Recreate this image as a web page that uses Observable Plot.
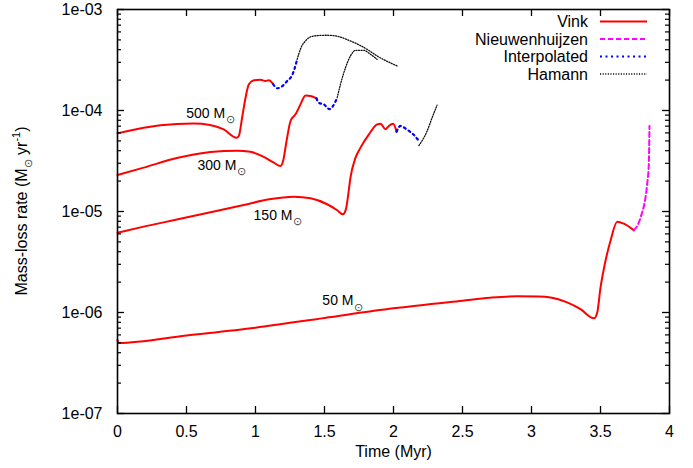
<!DOCTYPE html>
<html><head><meta charset="utf-8">
<script src="https://cdn.jsdelivr.net/npm/d3@7"></script>
<script src="https://cdn.jsdelivr.net/npm/@observablehq/plot@0.6"></script>
<style>
body{margin:0;background:#fff}
svg{font-family:"Liberation Sans",Arial,Helvetica,sans-serif}
</style>
</head><body><div id="chart"></div>
<script>
// ---- ticks & labels ----
const xTicks = [0, 0.5, 1, 1.5, 2, 2.5, 3, 3.5, 4];
const yTicks = [1e-7, 1e-6, 1e-5, 1e-4, 1e-3];
const yTickLabels = ["1e-07", "1e-06", "1e-05", "1e-04", "1e-03"];
const legendNames = ["Vink", "Nieuwenhuijzen", "Interpolated", "Hamann"];
const legendColors = ["#ff0000", "#ff00ff", "#0000ff", "#000000"];

// ---- curve labels ----
const starLabels = ["500 M", "300 M", "150 M", "50 M"];
const starLabelT = [0.78, 0.862, 1.268, 1.71];
const starLabelRate = [9.4e-5, 2.88e-5, 9.2e-6, 1.3e-6];

// ---- data: [time (Myr), mass-loss rate (Msun/yr)] ----
const vink500 = [[0,5.94e-5],[0.19,6.76e-5],[0.43,7.35e-5],[0.55,7.42e-5],[0.67,7.2e-5],[0.77,6.5e-5],[0.862,5.38e-5],[0.879,5.6e-5],[0.903,8.5e-5],[0.928,1.34e-4],[0.952,1.82e-4],[0.988,1.99e-4],[1.036,2.02e-4],[1.072,1.96e-4],[1.097,1.99e-4],[1.128,1.82e-4]];
const interp500 = [[1.128,1.82e-4],[1.157,1.66e-4],[1.186,1.71e-4],[1.23,1.96e-4],[1.266,2.24e-4],[1.302,3.21e-4]];
const hamann500 = [[1.302,3.21e-4],[1.33,4.19e-4],[1.366,4.95e-4],[1.423,5.47e-4],[1.519,5.56e-4],[1.592,5.43e-4],[1.688,4.88e-4],[1.808,4.04e-4],[1.881,3.47e-4],[2.027,2.76e-4]];

const vink300 = [[0,2.3e-5],[0.19,2.72e-5],[0.43,3.38e-5],[0.674,3.88e-5],[0.867,4.0e-5],[0.963,3.9e-5],[1.06,3.47e-5],[1.133,3.04e-5],[1.181,2.82e-5],[1.2,3.16e-5],[1.225,4.99e-5],[1.254,7.87e-5],[1.29,9.16e-5],[1.326,1.15e-4],[1.362,1.41e-4],[1.399,1.39e-4],[1.442,1.32e-4]];
const interp300 = [[1.442,1.32e-4],[1.459,1.19e-4],[1.495,1.15e-4],[1.536,1.03e-4],[1.562,1.11e-4],[1.592,1.34e-4]];
const hamann300 = [[1.592,1.34e-4],[1.616,1.82e-4],[1.652,2.65e-4],[1.688,3.47e-4],[1.725,3.94e-4],[1.785,3.94e-4],[1.833,3.6e-4],[1.881,3.21e-4]];

const vink150 = [[0,6.17e-6],[0.19,7.08e-6],[0.43,8.32e-6],[0.674,9.82e-6],[0.915,1.16e-5],[1.1,1.32e-5],[1.278,1.4e-5],[1.399,1.35e-5],[1.519,1.18e-5],[1.592,1.03e-5],[1.633,9.37e-6],[1.655,1.05e-5],[1.669,1.37e-5],[1.688,2.16e-5],[1.725,3.41e-5],[1.761,4.29e-5],[1.822,5.81e-5],[1.882,7.29e-5],[1.906,7.4e-5],[1.942,6.52e-5],[1.966,7.03e-5],[1.998,7.4e-5],[2.022,6.17e-5]];
const interp150 = [[2.022,6.17e-5],[2.051,7.03e-5],[2.095,6.5e-5],[2.143,5.81e-5],[2.184,5.0e-5]];
const hamann150 = [[2.184,4.5e-5],[2.244,6.27e-5],[2.28,8.5e-5],[2.316,1.13e-4]];

const vink50 = [[0,5.35e-7],[0.008,5.0e-7],[0.5,5.93e-7],[1.0,7.08e-7],[1.5,8.83e-7],[2.0,1.1e-6],[2.5,1.31e-6],[2.7,1.4e-6],[2.9,1.45e-6],[3.05,1.44e-6],[3.138,1.41e-6],[3.258,1.26e-6],[3.355,1.08e-6],[3.452,8.75e-7],[3.476,9.96e-7],[3.5,1.76e-6],[3.536,3.24e-6],[3.572,5.1e-6],[3.621,7.92e-6],[3.669,7.57e-6],[3.741,6.51e-6]];
const nieuw50 = [[3.741,6.51e-6],[3.79,8.69e-6],[3.838,1.86e-5],[3.85,2.93e-5],[3.855,7.03e-5]];

const segments = [
  {model: "Vink", star: 500, pts: vink500},
  {model: "Interpolated", star: 500, pts: interp500},
  {model: "Hamann", star: 500, pts: hamann500},
  {model: "Vink", star: 300, pts: vink300},
  {model: "Interpolated", star: 300, pts: interp300},
  {model: "Hamann", star: 300, pts: hamann300},
  {model: "Vink", star: 150, pts: vink150},
  {model: "Interpolated", star: 150, pts: interp150},
  {model: "Hamann", star: 150, pts: hamann150},
  {model: "Vink", star: 50, pts: vink50},
  {model: "Nieuwenhuijzen", star: 50, pts: nieuw50}
];
const rows = segments.flatMap((s, i) => s.pts.map(([t, rate]) => ({seg: i, model: s.model, star: s.star, t, rate})));
const yMinor = [1e-7, 1e-6, 1e-5, 1e-4].flatMap(d => [2,3,4,5,6,7,8,9].map(k => k * d));
const labelRows = starLabels.map((s, i) => ({s, t: starLabelT[i], rate: starLabelRate[i]}));

const W = 693, H = 468;
const mL = 117, mR = 24, mT = 9, mB = 55;
const fw = W - mL - mR, fh = H - mT - mB;

const styles = {
  "Vink": {stroke: "#ff0000", strokeWidth: 2},
  "Nieuwenhuijzen": {stroke: "#ff00ff", strokeWidth: 2, strokeDasharray: "5,3"},
  "Interpolated": {stroke: "#0000ff", strokeWidth: 2.2, strokeDasharray: "2,3.5"},
  "Hamann": {stroke: "#111", strokeWidth: 1.3, strokeDasharray: "1.1,1.5"}
};

const plot = Plot.plot({
  width: W, height: H,
  marginLeft: mL, marginRight: mR, marginTop: mT, marginBottom: mB,
  style: {fontSize: "16px", fontFamily: "'Liberation Sans', Arial, sans-serif", color: "#000", background: "#fff"},
  x: {domain: [0, 4]},
  y: {type: "log", domain: [1e-7, 1e-3]},
  marks: [
    ...Object.keys(styles).map(m => Plot.line(rows.filter(d => d.model === m), {x: "t", y: "rate", z: "seg", curve: "monotone-x", ...styles[m]})),
    // inward ticks
    Plot.ruleX(xTicks, {x: d => d, insetTop: fh - 7, stroke: "#000", strokeWidth: 1.3}),
    Plot.ruleX(xTicks, {x: d => d, insetBottom: fh - 7, stroke: "#000", strokeWidth: 1.3}),
    Plot.ruleY(yTicks, {y: d => d, insetRight: fw - 7, stroke: "#000", strokeWidth: 1.3}),
    Plot.ruleY(yTicks, {y: d => d, insetLeft: fw - 7, stroke: "#000", strokeWidth: 1.3}),
    Plot.ruleY(yMinor, {y: d => d, insetRight: fw - 4, stroke: "#000", strokeWidth: 1.2}),
    Plot.ruleY(yMinor, {y: d => d, insetLeft: fw - 4, stroke: "#000", strokeWidth: 1.2}),
    Plot.frame({stroke: "#000", strokeWidth: 1.6}),
    Plot.axisX(xTicks, {tickSize: 0, tickPadding: 12, fontSize: 16, label: null, tickFormat: d => String(d)}),
    Plot.axisY(yTicks, {tickSize: 0, tickPadding: 15, fontSize: 16, label: null, tickFormat: d => yTickLabels[yTicks.indexOf(d)]}),
    Plot.text(["Time (Myr)"], {frameAnchor: "bottom", dy: 43, text: d => d, fontSize: 16, fill: "#000"}),
    // curve labels
    Plot.text(labelRows, {x: "t", y: "rate", text: "s", textAnchor: "end", fontSize: 14, fill: "#000"}),
    Plot.text(labelRows, {x: "t", y: "rate", text: () => "\u2299", textAnchor: "start", dx: 0.5, dy: 6, fontSize: 11, fill: "#444"})
  ]
});
document.getElementById("chart").appendChild(plot);

const svg = d3.select(plot);
// y axis label
const yl = svg.append("text")
  .attr("transform", `translate(27,${mT + fh / 2}) rotate(-90)`)
  .attr("text-anchor", "middle")
  .attr("font-size", 16)
  .attr("fill", "#000");
yl.append("tspan").text("Mass-loss rate (M");
yl.append("tspan").attr("font-size", 11).attr("dy", 5).attr("fill", "#444").text("\u2299");
yl.append("tspan").attr("dy", -5).text(" yr");
yl.append("tspan").attr("font-size", 11).attr("dy", -7).text("-1");
yl.append("tspan").attr("dy", 7).text(")");

// legend
const lg = svg.append("g");
legendNames.forEach((name, i) => {
  const y = 21.5 + i * 17.5;
  lg.append("text").attr("x", 588).attr("y", y).attr("dy", "0.35em")
    .attr("text-anchor", "end").attr("font-size", 16).attr("fill", "#000").text(name);
  const st = styles[name];
  lg.append("line").attr("x1", 600).attr("x2", 647).attr("y1", y).attr("y2", y)
    .attr("stroke", legendColors[i]).attr("stroke-width", st.strokeWidth)
    .attr("stroke-dasharray", st.strokeDasharray || null);
});
</script>
</body></html>
